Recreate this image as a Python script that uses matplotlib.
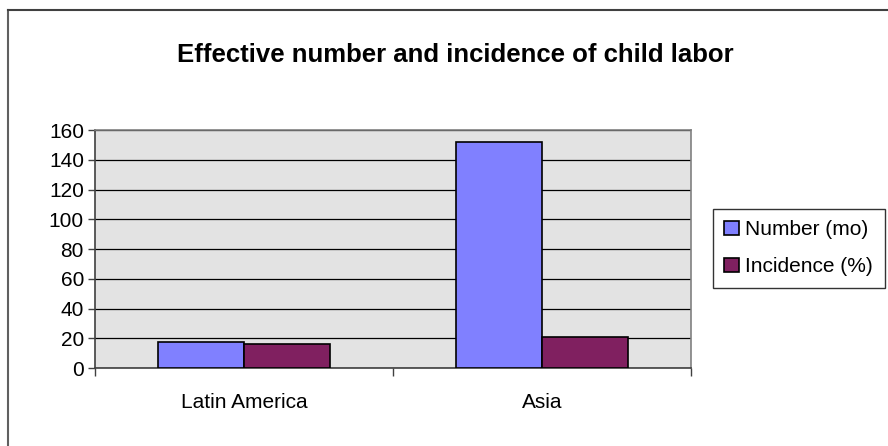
import matplotlib
matplotlib.use("Agg")
import matplotlib.pyplot as plt
import numpy as np
from matplotlib.lines import Line2D

plt.rcParams['font.family'] = ['Liberation Sans', 'DejaVu Sans']

categories = ["Latin America", "Asia"]
series_names = ["Number (mo)", "Incidence (%)"]
number_mo = [17.5, 152]
incidence_pct = [16, 21]
colors = ["#8080FF", "#802060"]
yticks = [0, 20, 40, 60, 80, 100, 120, 140, 160]

fig = plt.figure(figsize=(8.88, 4.46), dpi=100)
ax = fig.add_axes([95/888, 1-368/446, (691-95)/888, (368-130)/446])
ax.set_facecolor("#E3E3E3")

x = np.arange(len(categories))
w = 0.29
ax.bar(x - w/2, number_mo, w, color=colors[0], edgecolor="black", linewidth=1.2,
       label=series_names[0], zorder=3)
ax.bar(x + w/2, incidence_pct, w, color=colors[1], edgecolor="black", linewidth=1.2,
       label=series_names[1], zorder=3)

ax.set_xlim(-0.5, len(categories) - 0.5)
ax.set_ylim(0, 160)
ax.set_yticks(yticks)
ax.set_yticklabels([str(v) for v in yticks], fontsize=15)
ax.yaxis.grid(True, color="black", linewidth=0.9, zorder=1)
ax.set_axisbelow(True)

ax.set_xticks(np.arange(-0.5, len(categories)), minor=False)
ax.set_xticklabels([])
ax.set_xticks(x, minor=True)
ax.set_xticklabels(categories, minor=True, fontsize=15)
ax.tick_params(axis='x', which='major', direction='out', length=6, width=1, color="#404040")
ax.tick_params(axis='x', which='minor', length=0, pad=18)
ax.tick_params(axis='y', direction='out', length=5, width=1, color="#404040", pad=3)

for s in ['left', 'bottom']:
    ax.spines[s].set_color("#404040")
    ax.spines[s].set_linewidth(1.2)
for s in ['top', 'right']:
    ax.spines[s].set_color("#808080")
    ax.spines[s].set_linewidth(1.2)

fig.text(455/888, 1-62/446, "Effective number and incidence of child labor",
         ha='center', va='baseline', fontsize=18.5, fontweight='bold')

leg = fig.legend(loc='upper left', bbox_to_anchor=(713/888, 1-209/446),
                 fontsize=15, frameon=True, fancybox=False, edgecolor="black",
                 handlelength=0.7, handleheight=0.7, handletextpad=0.3,
                 borderpad=0.55, labelspacing=0.85, borderaxespad=0)
leg.get_frame().set_linewidth(1)

# outer chart border (top and left visible)
fig.add_artist(Line2D([8/888, 8/888], [0, 1-10/446], transform=fig.transFigure,
                      color="#606060", linewidth=1.5))
fig.add_artist(Line2D([8/888, 1], [1-10/446, 1-10/446], transform=fig.transFigure,
                      color="#404040", linewidth=1.5))

fig.savefig("out.png", dpi=100)
